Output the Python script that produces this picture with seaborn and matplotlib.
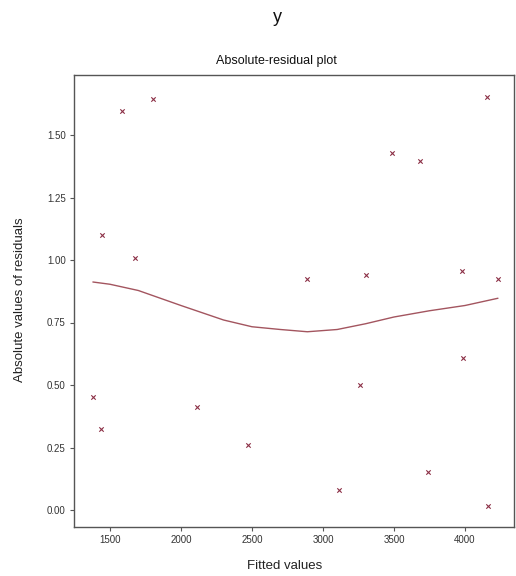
import matplotlib
matplotlib.use("Agg")
import matplotlib.pyplot as plt
import seaborn as sns
import pandas as pd

# scatter points: fitted values vs absolute residuals
fitted = [1380, 1437, 1444, 1585, 1676, 1803, 2113, 2472, 2887, 3113,
          3261, 3303, 3486, 3683, 3739, 3979, 3986, 4155, 4162, 4232]
abs_resid = [0.452, 0.324, 1.10, 1.596, 1.008, 1.644, 0.412, 0.26, 0.924, 0.08,
             0.50, 0.94, 1.428, 1.396, 0.152, 0.956, 0.608, 1.652, 0.016, 0.924]

# smoother
smooth_x = [1380, 1500, 1700, 2000, 2300, 2500, 2700, 2890, 3100, 3300, 3500, 3750, 4000, 4232]
smooth_y = [0.912, 0.903, 0.878, 0.818, 0.760, 0.733, 0.722, 0.713, 0.722, 0.745, 0.772, 0.797, 0.818, 0.847]

points = pd.DataFrame({"fitted": fitted, "resid": abs_resid})
curve = pd.DataFrame({"fitted": smooth_x, "resid": smooth_y})

sns.set_theme(style="white")
plt.rcParams["font.family"] = ["Liberation Sans", "DejaVu Sans"]

fig = plt.figure(figsize=(5.16, 5.76), dpi=100)
ax = fig.add_axes([74 / 516, 1 - 527 / 576, 440 / 516, 452 / 576])

sns.lineplot(data=curve, x="fitted", y="resid", ax=ax, color="#a3555f", linewidth=1.0)
sns.scatterplot(data=points, x="fitted", y="resid", ax=ax, marker="x",
                color="#8b2f45", s=10, linewidth=0.8)

ax.set_xlim(1247, 4345)
ax.set_ylim(-0.068, 1.74)
ax.set_xticks([1500, 2000, 2500, 3000, 3500, 4000])
ax.set_yticks([0.0, 0.25, 0.5, 0.75, 1.0, 1.25, 1.5])
ax.set_yticklabels(["0.00", "0.25", "0.50", "0.75", "1.00", "1.25", "1.50"])
ax.tick_params(axis="both", direction="out", length=3, width=0.8, colors="#555555",
               labelsize=7, labelcolor="#333333", pad=3)
ax.tick_params(left=True, bottom=True)
for s in ax.spines.values():
    s.set_color("#555555")
    s.set_linewidth(1.0)

ax.set_xlabel("")
ax.set_ylabel("")
fig.text(285 / 516, 1 - 566 / 576, "Fitted values", ha="center", va="center", fontsize=9.5, color="#222222")
fig.text(20 / 516, 1 - 300 / 576, "Absolute values of residuals", ha="center", va="center",
         rotation=90, fontsize=9.5, color="#222222")
fig.text(277 / 516, 1 - 18 / 576, "y", ha="center", va="center", fontsize=13, color="#111111")
fig.text(276 / 516, 1 - 61 / 576, "Absolute-residual plot", ha="center", va="center",
         fontsize=9, color="#111111")

fig.savefig("out.png", dpi=100)
